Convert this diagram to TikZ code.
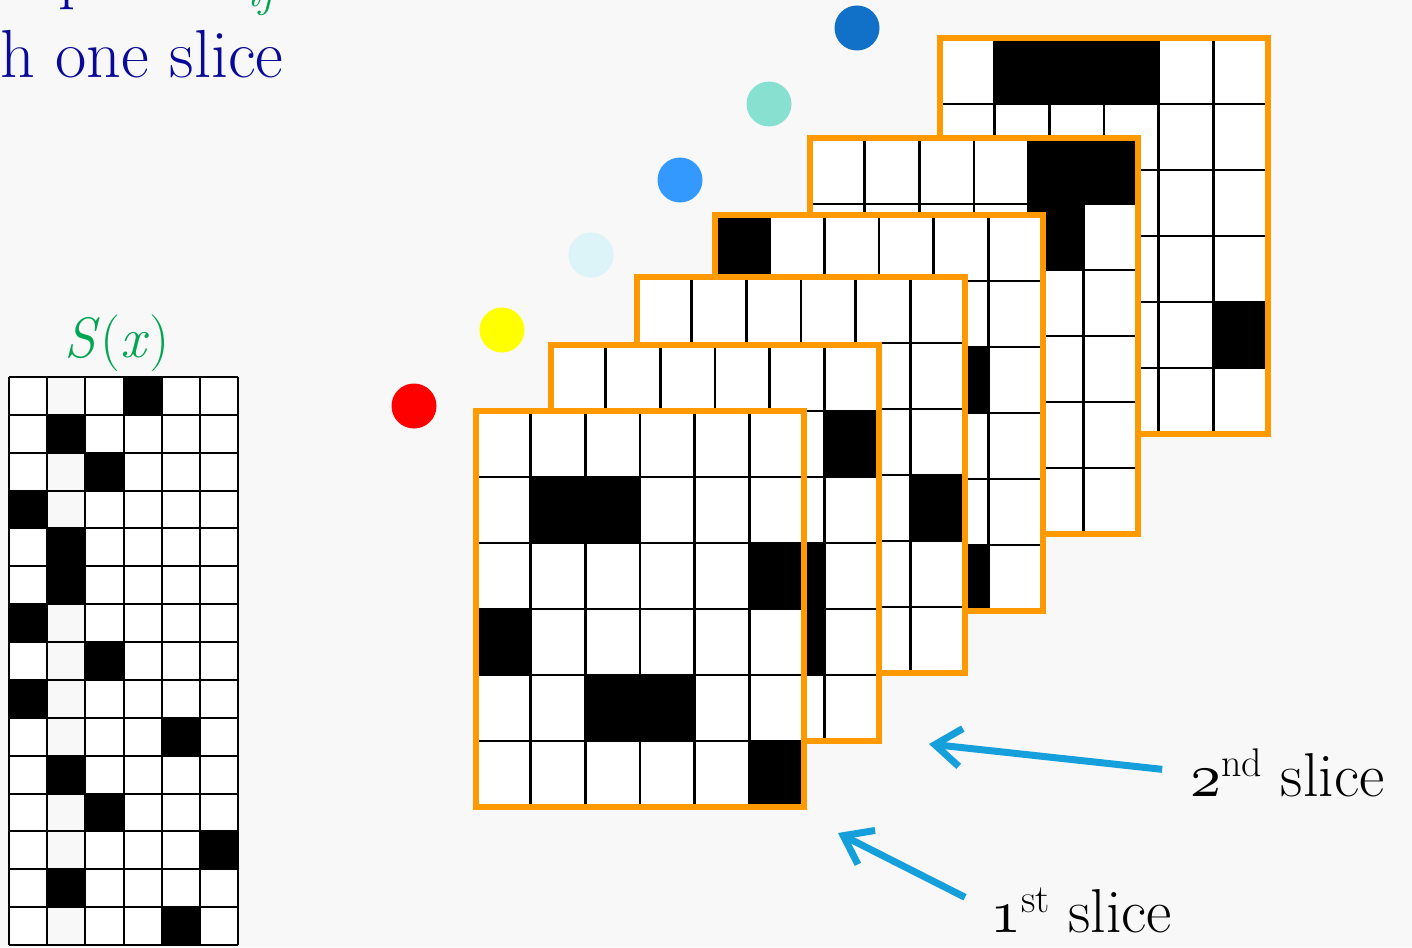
\documentclass[tikz,border=0pt]{standalone}
\usepackage{fontspec}
\usepackage{graphicx}
\usetikzlibrary{arrows.meta}
\definecolor{pagebg}{HTML}{F8F8F8}
\definecolor{titleblue}{HTML}{0A0A99}
\definecolor{seqgreen}{HTML}{00A651}
\definecolor{sliceorange}{HTML}{FF9900}
\definecolor{pointerblue}{HTML}{16A0DB}
\definecolor{dotred}{HTML}{FF0000}
\definecolor{dotyellow}{HTML}{FFFF00}
\definecolor{dotpale}{HTML}{DCF3F7}
\definecolor{dotblue}{HTML}{3399FF}
\definecolor{dotmint}{HTML}{88E0D0}
\definecolor{dotdeep}{HTML}{1170C8}
\newcommand{\osnum}[1]{\scalebox{6.2}{\fontsize{10}{12}\usefont{OML}{cmm}{m}{it}#1}}

\begin{document}
\begin{tikzpicture}[
  x={(1pt,0pt)},
  y={(0pt,-1pt)},
  cellline/.style={draw=black,line width=2.4pt},
  seqline/.style={draw=black,line width=2pt},
  sliceframe/.style={draw=sliceorange,line width=6pt},
  pointer/.style={draw=pointerblue,line width=7pt,
    -{Straight Barb[length=26pt,width=38pt]},shorten <=28pt},
  bigtext/.style={font=\fontsize{62}{68}\selectfont,inner sep=0pt},
  slicegrid/.pic={
    \fill[white] (0,0) rectangle (328,396);
    \foreach \cx/\ry in {#1} {
      \fill[black] (\cx*54.67,\ry*66) rectangle ++(54.67,66);
    }
    \foreach \k in {1,...,5} {
      \draw[cellline] (\k*54.67,0) -- (\k*54.67,396);
      \draw[cellline] (0,\k*66) -- (328,\k*66);
    }
    \draw[sliceframe] (0,0) rectangle (328,396);
  }
]
  \clip (0,0) rectangle (1412,947);
  \fill[pagebg] (0,0) rectangle (1412,947);

  % Cut-off heading at the top left.
  \node[anchor=base west,inner sep=0pt,text=titleblue,font=\fontsize{68}{74}\selectfont] (titlecut) at (58,-3) {p};
  \node[anchor=base west,inner sep=0pt,text=seqgreen,font=\fontsize{45}{50}\selectfont\itshape] (titlesub) at (246,7) {ij};
  \node[anchor=base west,inner sep=0pt,text=titleblue,font=\fontsize{68}{74}\selectfont] (titleline) at (0,78) {h one slice};

  % Sample sequence S(x): one black cell in every row.
  \foreach \ry/\cx in {0/3,1/1,2/2,3/0,4/1,5/1,6/0,7/2,8/0,9/4,10/1,11/2,12/5,13/1,14/4} {
    \foreach \k in {0,2,3,4,5} {
      \fill[white] (9+\k*38.17,377+\ry*37.87) rectangle ++(38.17,37.87);
    }
    \fill[black] (9+\cx*38.17,377+\ry*37.87) rectangle ++(38.17,37.87);
  }
  \foreach \k in {0,...,6} {
    \draw[seqline] (9+\k*38.17,377) -- (9+\k*38.17,945);
  }
  \foreach \k in {0,...,15} {
    \draw[seqline] (9,377+\k*37.87) -- (238,377+\k*37.87);
  }
  \node[anchor=base,inner sep=0pt,text=seqgreen,font=\fontsize{57}{62}\selectfont] (seqlabel) at (117,357) {\textit{S}(\textit{x})};

  % Coloured dots, one per slice.
  \fill[dotred] (414,406) circle[radius=22.5];
  \fill[dotyellow] (502,330) circle[radius=22.5];
  \fill[dotpale] (591,255) circle[radius=22.5];
  \fill[dotblue] (680,180) circle[radius=22.5];
  \fill[dotmint] (769,104) circle[radius=22.5];
  \fill[dotdeep] (857,28) circle[radius=22.5];

  % Slices, back to front.
  \pic at (940,38) {slicegrid={1/0,2/0,3/0,5/4}};
  \pic at (810,138) {slicegrid={4/0,5/0,4/1}};
  \pic at (715,215) {slicegrid={0/0,4/2,4/5}};
  \pic at (637,277) {slicegrid={5/3}};
  \pic at (551,345) {slicegrid={5/1,4/3,4/4}};
  \pic at (476,411) {slicegrid={1/1,2/1,5/2,0/3,2/4,3/4,5/5}};

  % Slice labels and pointers.
  \node[bigtext,anchor=base west] (slice2lbl) at (1190,796)
    {\osnum{2}\raisebox{20pt}{\fontsize{40}{44}\selectfont nd} slice};
  \node[bigtext,anchor=base west] (slice1lbl) at (990,932)
    {\osnum{1}\raisebox{20pt}{\fontsize{40}{44}\selectfont st} slice};
  \coordinate (slice2tip) at (929,744);
  \coordinate (slice1tip) at (838,833);
  \draw[pointer] (slice2lbl.west) -- (slice2tip);
  \draw[pointer] (slice1lbl.west) -- (slice1tip);
\end{tikzpicture}
\end{document}
